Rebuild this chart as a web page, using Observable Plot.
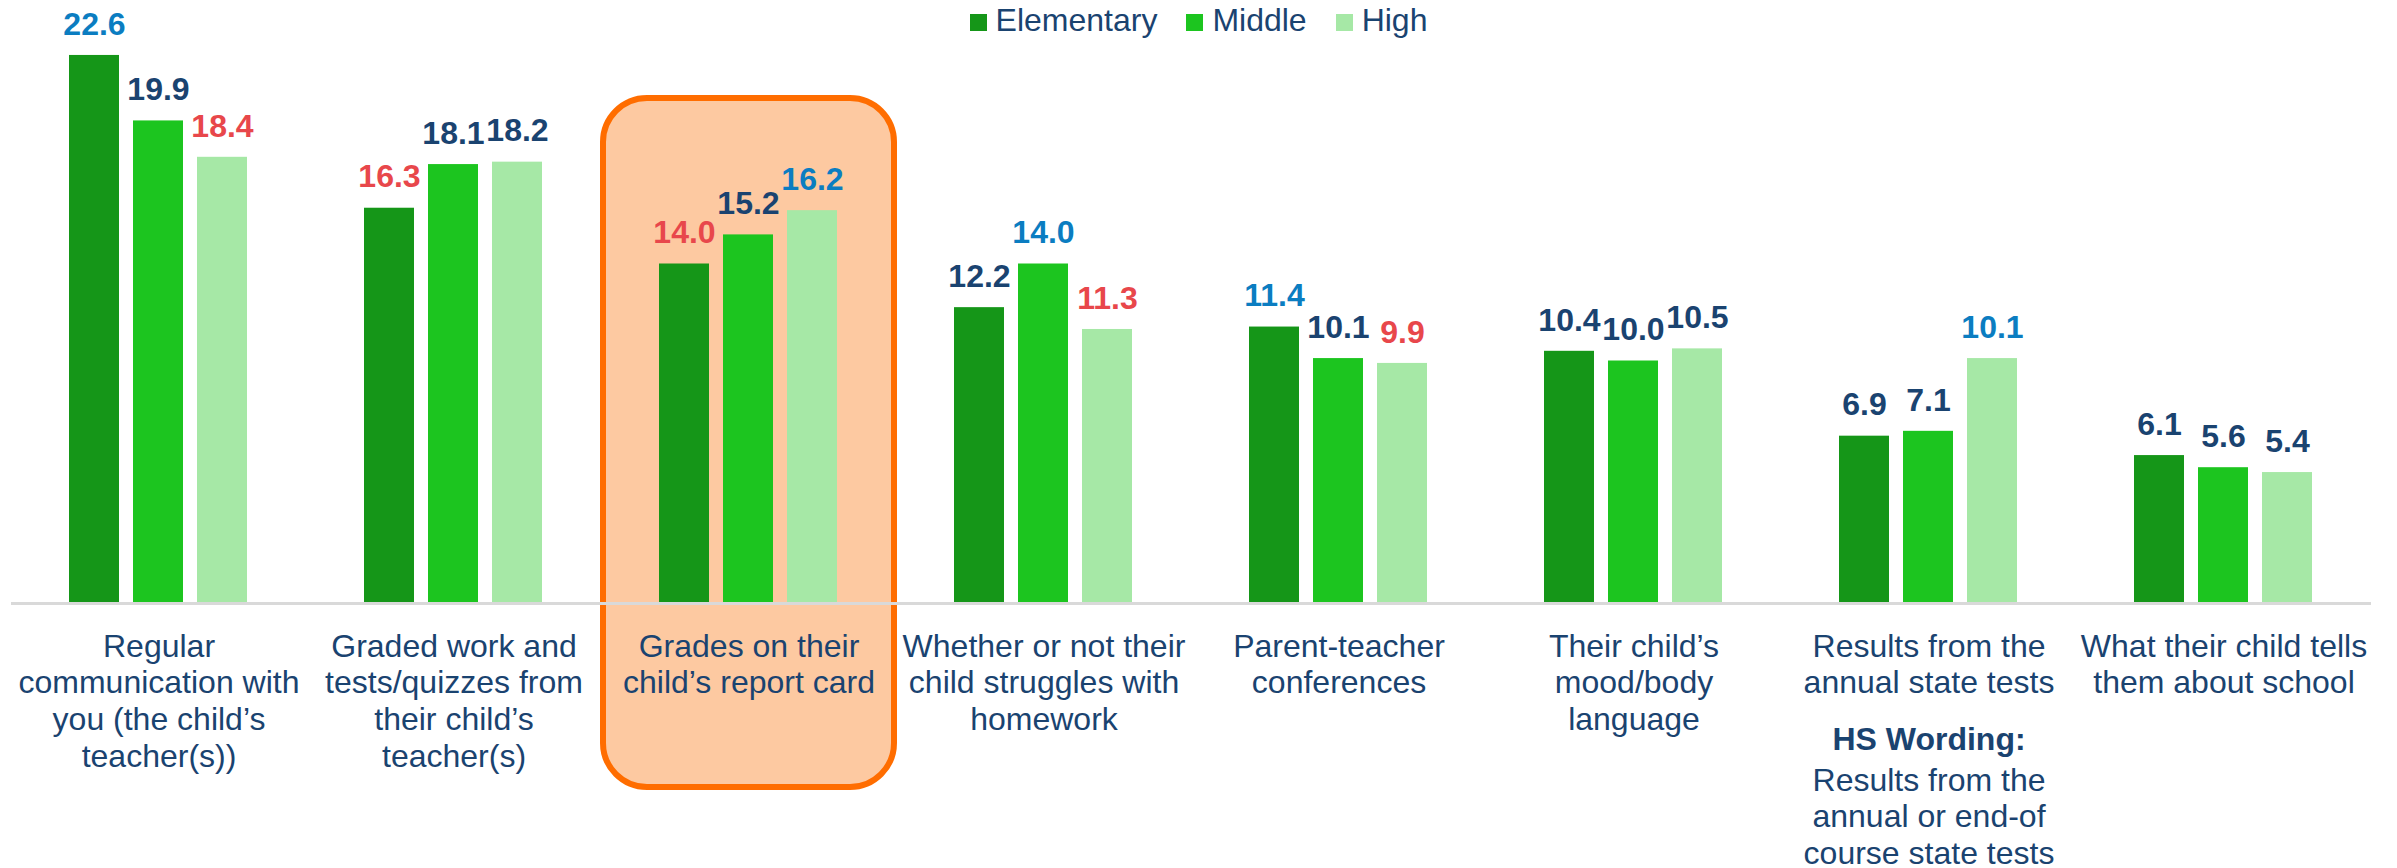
<!DOCTYPE html>
<html>
<head>
<meta charset="utf-8">
<script src="https://cdn.jsdelivr.net/npm/d3@7"></script>
<script src="https://cdn.jsdelivr.net/npm/@observablehq/plot@0.6"></script>
<style>
  html, body { margin: 0; padding: 0; background: #fff; }
  #wrap { position: relative; width: 2397px; height: 868px; overflow: hidden; }
  #legend { position: absolute; top: 2px; left: 0; width: 2397px; display: flex; justify-content: center; gap: 29px;
    font-family: "Liberation Sans", Arial, sans-serif; font-size: 32px; color: #1a4370; line-height: 37px; }
  #legend .item { display: flex; align-items: baseline; gap: 9px; }
  #legend .sw { width: 17px; height: 17px; display: inline-block; }
</style>
</head>
<body>
<div id="wrap">
  <div id="legend"></div>
  <div id="chart"></div>
</div>
<script>
// ---- data ----
const categories = [
  "Regular communication with you (the child’s teacher(s))",
  "Graded work and tests/quizzes from their child’s teacher(s)",
  "Grades on their child’s report card",
  "Whether or not their child struggles with homework",
  "Parent-teacher conferences",
  "Their child’s mood/body language",
  "Results from the annual state tests",
  "What their child tells them about school"
];
const categoryLines = [
  "Regular\ncommunication with\nyou (the child’s\nteacher(s))",
  "Graded work and\ntests/quizzes from\ntheir child’s\nteacher(s)",
  "Grades on their\nchild’s report card",
  "Whether or not their\nchild struggles with\nhomework",
  "Parent-teacher\nconferences",
  "Their child’s\nmood/body\nlanguage",
  "Results from the\nannual state tests",
  "What their child tells\nthem about school"
];
const levels = ["Elementary", "Middle", "High"];
const elementary = [22.6, 16.3, 14.0, 12.2, 11.4, 10.4, 6.9, 6.1];
const middle     = [19.9, 18.1, 15.2, 14.0, 10.1, 10.0, 7.1, 5.6];
const high       = [18.4, 18.2, 16.2, 11.3, 9.9, 10.5, 10.1, 5.4];
// significance flags: "hi" = significantly higher, "lo" = significantly lower, "" = none
const elementarySig = ["hi", "lo", "lo", "", "hi", "", "", ""];
const middleSig     = ["", "", "", "hi", "", "", "", ""];
const highSig       = ["lo", "", "hi", "lo", "lo", "", "hi", ""];
const highlighted = "Grades on their child’s report card";
const hsWordingTitle = "HS Wording:";
const hsWordingText = "Results from the\nannual or end-of\ncourse state tests";
const hsWordingCategory = "Results from the annual state tests";

// ---- styles ----
const barColors = ["#159618", "#1cc51f", "#a6e8a6"];
const sigColors = { hi: "#0b7dc1", lo: "#e8474b", "": "#1a4370" };
const navy = "#1a4370";
const FONT = "'Liberation Sans', Arial, sans-serif";

const series = [elementary, middle, high];
const sigs = [elementarySig, middleSig, highSig];
const rows = [];
categories.forEach((c, i) => levels.forEach((l, j) => rows.push({ category: c, level: l, value: series[j][i], sig: sigs[j][i] })));
const labelRows = categories.map((c, i) => ({ category: c, lines: categoryLines[i] }));

// legend
const leg = document.getElementById("legend");
levels.forEach((l, j) => {
  const it = document.createElement("div"); it.className = "item";
  const sw = document.createElement("span"); sw.className = "sw"; sw.style.background = barColors[j];
  const tx = document.createElement("span"); tx.textContent = l;
  it.appendChild(sw); it.appendChild(tx); leg.appendChild(it);
});

const valueMarks = ["hi", "lo", ""].map(s => Plot.text(rows, {
  filter: d => d.sig === s,
  fx: "category", x: "level", y: "value", text: d => d.value.toFixed(1),
  fill: sigColors[s], fontSize: 32, fontWeight: "bold", fontFamily: FONT,
  lineAnchor: "middle", dy: -31
}));

const chart = Plot.plot({
  width: 2397, height: 868,
  marginLeft: 9, marginRight: 23, marginTop: 21, marginBottom: 265,
  fx: { domain: categories, paddingInner: 0.385, paddingOuter: 0.19, axis: null, label: null },
  x: { domain: levels, paddingInner: 0.215, paddingOuter: 0, axis: null, label: null },
  y: { domain: [0, 24], axis: null, label: null },
  color: { domain: levels, range: barColors },
  style: { fontFamily: FONT },
  marks: [
    Plot.rect([highlighted], { fx: d => d, fill: "#fdc9a1", stroke: "#ff6d00", strokeWidth: 6, rx: 44,
      insetLeft: -55, insetRight: -55, insetTop: 77, insetBottom: -184 }),
    Plot.barY(rows, { fx: "category", x: "level", y: "value", fill: "level" }),
    Plot.ruleY([0], { stroke: "#d9d9d9", strokeWidth: 3, insetLeft: -57, insetRight: -57 }),
    ...valueMarks,
    Plot.text(labelRows, { fx: "category", text: "lines", frameAnchor: "bottom",
      lineAnchor: "top", dy: 27, fontSize: 32, lineHeight: 1.15, fill: navy, fontFamily: FONT }),
    Plot.text([hsWordingCategory], { fx: d => d, text: () => hsWordingTitle, frameAnchor: "bottom",
      lineAnchor: "top", dy: 124, fontSize: 32, fontWeight: "bold", fill: navy, fontFamily: FONT }),
    Plot.text([hsWordingCategory], { fx: d => d, text: () => hsWordingText, frameAnchor: "bottom",
      lineAnchor: "top", dy: 161, fontSize: 32, lineHeight: 1.15, fill: navy, fontFamily: FONT })
  ]
});
document.getElementById("chart").appendChild(chart);
</script>
</body>
</html>
